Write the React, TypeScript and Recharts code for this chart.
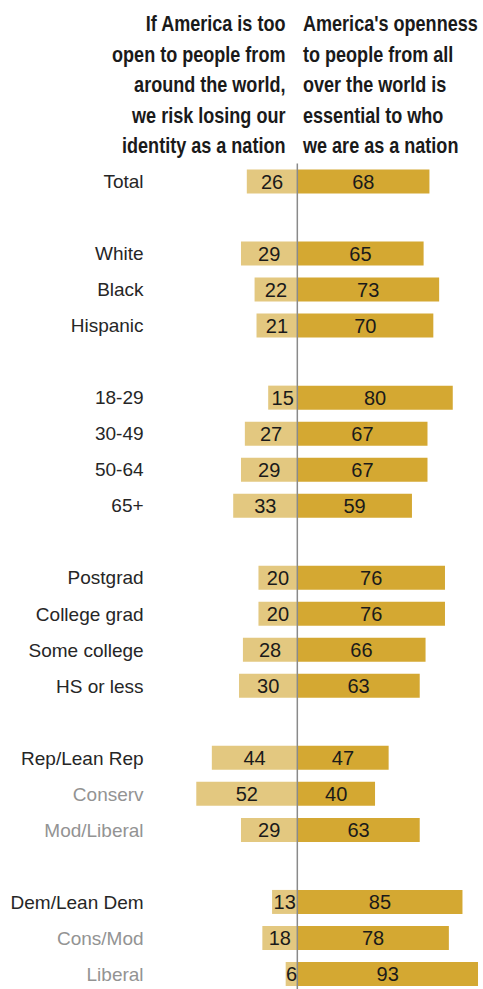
import React from 'react';
import { BarChart, Bar, XAxis, YAxis, ReferenceLine, LabelList } from 'recharts';

const categories = ['Total', '', 'White', 'Black', 'Hispanic', ' ', '18-29', '30-49', '50-64', '65+', '  ', 'Postgrad', 'College grad', 'Some college', 'HS or less', '   ', 'Rep/Lean Rep', 'Conserv', 'Mod/Liberal', '    ', 'Dem/Lean Dem', 'Cons/Mod', 'Liberal'];
const riskValues = [26, null, 29, 22, 21, null, 15, 27, 29, 33, null, 20, 20, 28, 30, null, 44, 52, 29, null, 13, 18, 6];
const opennessValues = [68, null, 65, 73, 70, null, 80, 67, 67, 59, null, 76, 76, 66, 63, null, 47, 40, 63, null, 85, 78, 93];
const subgroupLabels = ['Conserv', 'Mod/Liberal', 'Cons/Mod', 'Liberal'];
const leftHeader = ['If America is too', 'open to people from', 'around the world,', 'we risk losing our', 'identity as a nation'];
const rightHeader = ["America's openness", 'to people from all', 'over the world is', 'essential to who', 'we are as a nation'];

const data = categories.map((label, i) => ({
  label,
  risk: riskValues[i] == null ? null : -(riskValues[i] as number),
  openness: opennessValues[i],
}));

const LABEL_FONT = "'Liberation Sans', Arial, sans-serif";
const HEADER_FONT = "'Liberation Sans', Arial, sans-serif";

const CategoryTick = (props: any) => {
  const { x, y, payload } = props;
  const v = String(payload.value);
  const gray = subgroupLabels.includes(v);
  return (
    <text x={x} y={y} dy="0.355em" textAnchor="end" fontSize={19} fontFamily={LABEL_FONT} fill={gray ? '#939393' : '#262626'}>
      {v.trim()}
    </text>
  );
};

const fmt = (v: any) => (v == null ? '' : Math.abs(v));

export default function App() {
  const headerStyle: React.CSSProperties = {
    position: 'absolute',
    top: 9,
    fontFamily: HEADER_FONT,
    fontWeight: 700,
    fontSize: 22,
    lineHeight: '30.5px',
    color: '#1a1a1a',
    whiteSpace: 'nowrap',
    transform: 'scaleX(0.82)',
  };
  return (
    <div style={{ position: 'absolute', left: 0, top: 0, width: 483, height: 992, background: '#fff' }}>
      <div style={{ ...headerStyle, right: 483 - 285, textAlign: 'right', transformOrigin: 'right top' }}>
        {leftHeader.map((l, i) => (
          <div key={i}>{l}</div>
        ))}
      </div>
      <div style={{ ...headerStyle, left: 303, textAlign: 'left', transformOrigin: 'left top' }}>
        {rightHeader.map((l, i) => (
          <div key={i}>{l}</div>
        ))}
      </div>
      <div style={{ position: 'absolute', left: 0, top: 0 }}>
        <BarChart
          width={483}
          height={992}
          data={data}
          layout="vertical"
          stackOffset="sign"
          margin={{ top: 163.5, right: 1.1, bottom: 0, left: 0 }}
        >
          <XAxis type="number" domain={[-75, 95]} hide />
          <YAxis
            type="category"
            dataKey="label"
            width={151.6}
            axisLine={false}
            tickLine={false}
            interval={0}
            tick={<CategoryTick />}
          />
          <Bar dataKey="risk" stackId="a" fill="#E3C880" barSize={24} isAnimationActive={false}>
            <LabelList dataKey="risk" position="center" formatter={fmt} fontSize={20} fontFamily={LABEL_FONT} fill="#1a1a1a" />
          </Bar>
          <Bar dataKey="openness" stackId="a" fill="#D4A832" barSize={24} isAnimationActive={false}>
            <LabelList dataKey="openness" position="center" formatter={fmt} fontSize={20} fontFamily={LABEL_FONT} fill="#1a1a1a" />
          </Bar>
          <ReferenceLine x={0} stroke="#8a8a8a" strokeWidth={1.5} ifOverflow="extendDomain" />
        </BarChart>
      </div>
    </div>
  );
}
